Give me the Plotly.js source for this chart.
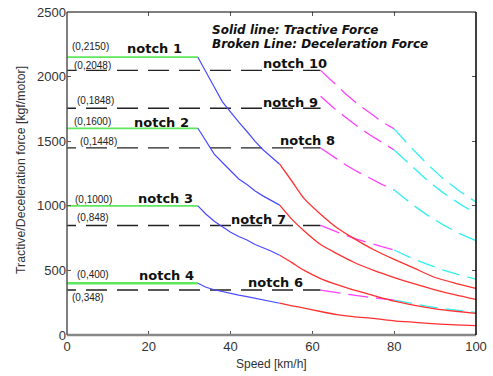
<!DOCTYPE html>
<html>
<head>
<meta charset="utf-8">
<script src="https://cdn.plot.ly/plotly-3.0.1.min.js"></script>
<style>
  html, body { margin: 0; padding: 0; background: #fff; }
  #chart { width: 493px; height: 376px; }
</style>
</head>
<body>
<div id="chart"></div>
<script>
// ---- Data ----
// Tractive force (solid lines), notch 1..4
const flatSpeedT = [0, 32];
const tractiveLevels = [2150, 1600, 1000, 400];
const blueSpeed = [32, 34, 36, 38, 40, 42, 44, 46, 48, 50, 52];
const redSpeed = [52, 55, 58, 62, 66, 70, 75, 80, 85, 90, 95, 100];
const n1Blue = [2150, 2030, 1920, 1805, 1722, 1648, 1575, 1498, 1432, 1380, 1322];
const n2Blue = [1600, 1500, 1400, 1335, 1272, 1208, 1165, 1115, 1075, 1040, 1005];
const n3Blue = [1000, 935, 880, 838, 795, 762, 735, 700, 675, 648, 617];
const n4Blue = [400, 370, 350, 335, 322, 309, 297, 285, 272, 258, 246];
const n1Red = [1322, 1190, 1055, 935, 830, 750, 660, 585, 515, 445, 400, 360];
const n2Red = [1005, 895, 805, 700, 630, 565, 500, 445, 395, 350, 310, 275];
const n3Red = [617, 560, 500, 437, 390, 350, 305, 262, 230, 203, 184, 168];
const n4Red = [246, 226, 208, 182, 158, 142, 128, 110, 98, 86, 78, 73];

// Deceleration force (broken lines), notch 10..6
const flatSpeedD = [0, 62];
// flat dashed black levels as drawn (notch 9's flat line is drawn lower than its label)
const decelFlatLevels = [2048, 1755, 1448, 848, 348];
const magSpeed = [62, 65, 68, 71, 74, 77, 80];
const cyanSpeed = [80, 84, 88, 92, 96, 100];
const decelMag = [
  [2048, 1955, 1870, 1790, 1718, 1650, 1595],
  [1848, 1762, 1688, 1615, 1550, 1490, 1432],
  [1448, 1381, 1320, 1264, 1213, 1166, 1122],
  [848, 809, 773, 741, 711, 684, 658],
  [348, 332, 317, 304, 292, 280, 270]
];
const decelCyan = [
  [1595, 1455, 1325, 1210, 1112, 1030],
  [1432, 1315, 1200, 1100, 1015, 940],
  [1122, 1020, 930, 852, 785, 730],
  [658, 598, 548, 503, 465, 432],
  [270, 245, 223, 204, 188, 175]
];

// Labels
const tractiveNames = ['notch 1', 'notch 2', 'notch 3', 'notch 4'];
const decelNames = ['notch 10', 'notch 9', 'notch 8', 'notch 7', 'notch 6'];
const tractiveNamePos = [[21.5, 2221], [23.2, 1648], [24.0, 1059], [24.4, 462]];
const decelNamePos = [[55.7, 2104], [54.6, 1802], [58.8, 1508], [46.9, 896], [50.9, 404]];
const pointLabels = ['(0,2150)', '(0,2048)', '(0,1848)', '(0,1600)', '(0,1448)', '(0,1000)', '(0,848)', '(0,400)', '(0,348)'];
const pointLabelPos = [[0.73, 2233], [1.2, 2089], [1.96, 1814], [1.2, 1655], [2.7, 1500], [1.5, 1051], [2.0, 908], [2.0, 470], [0.73, 288]];

// ---- Build traces ----
const traces = [];
const blues = [n1Blue, n2Blue, n3Blue, n4Blue];
const reds = [n1Red, n2Red, n3Red, n4Red];

decelFlatLevels.forEach((lv, i) => {
  traces.push({x: flatSpeedD, y: [lv, lv], mode: 'lines',
    line: {color: '#222', width: 1.4, dash: '9px,10px,12px,0px'}, hoverinfo: 'skip'});
  traces.push({x: magSpeed, y: decelMag[i], mode: 'lines',
    line: {color: '#ff40ff', width: 1.3, dash: '20px,8px'}, hoverinfo: 'skip'});
  traces.push({x: cyanSpeed, y: decelCyan[i], mode: 'lines',
    line: {color: '#30f0f0', width: 1.3, dash: '18px,8px'}, hoverinfo: 'skip'});
});

tractiveLevels.forEach((lv, i) => {
  traces.push({x: flatSpeedT, y: [lv, lv], mode: 'lines',
    line: {color: '#5ee65e', width: i === 3 ? 2.6 : 1.8}, hoverinfo: 'skip'});
  traces.push({x: blueSpeed, y: blues[i], mode: 'lines',
    line: {color: '#4a4aff', width: 1.2}, hoverinfo: 'skip'});
  traces.push({x: redSpeed, y: reds[i], mode: 'lines',
    line: {color: '#ff3030', width: 1.3, shape: 'spline', smoothing: 0.6}, hoverinfo: 'skip'});
});

// ---- Annotations ----
const annotations = [];
const notchFont = {family: 'DejaVu Sans', size: 13, color: '#111', weight: 'bold'};
tractiveNames.forEach((t, i) => annotations.push({
  x: tractiveNamePos[i][0], y: tractiveNamePos[i][1], xref: 'x', yref: 'y',
  text: t, showarrow: false, xanchor: 'center', yanchor: 'middle', font: notchFont
}));
decelNames.forEach((t, i) => annotations.push({
  x: decelNamePos[i][0], y: decelNamePos[i][1], xref: 'x', yref: 'y',
  text: t, showarrow: false, xanchor: 'center', yanchor: 'middle', font: notchFont
}));
pointLabels.forEach((t, i) => annotations.push({
  x: pointLabelPos[i][0], y: pointLabelPos[i][1], xref: 'x', yref: 'y',
  text: t, showarrow: false, xanchor: 'left', yanchor: 'middle',
  font: {family: 'Liberation Sans', size: 10, color: '#222'}
}));
const legFont = {family: 'DejaVu Sans', size: 12, color: '#111', weight: 'bold', style: 'italic'};
annotations.push({x: 35.0, y: 2360, xref: 'x', yref: 'y', text: 'Solid line: Tractive Force',
  showarrow: false, xanchor: 'left', yanchor: 'middle', font: legFont});
annotations.push({x: 35.0, y: 2256, xref: 'x', yref: 'y', text: 'Broken Line: Deceleration Force',
  showarrow: false, xanchor: 'left', yanchor: 'middle', font: legFont});
// axis titles
annotations.push({x: -0.1125, y: 0.511, xref: 'paper', yref: 'paper', textangle: -90,
  text: 'Tractive/Deceleration force [kgf/motor]', showarrow: false,
  xanchor: 'center', yanchor: 'middle', font: {family: 'Liberation Sans', size: 12.3, color: '#333'}});
annotations.push({x: 0.5, y: -0.0898, xref: 'paper', yref: 'paper',
  text: 'Speed [km/h]', showarrow: false,
  xanchor: 'center', yanchor: 'middle', font: {family: 'Liberation Sans', size: 12, color: '#333'}});

const axisFont = {family: 'Liberation Sans', size: 13, color: '#333'};
const layout = {
  width: 493, height: 376,
  margin: {l: 67, r: 17, t: 12, b: 41},
  paper_bgcolor: '#fff', plot_bgcolor: '#fff',
  showlegend: false,
  xaxis: {
    range: [0, 100], tickvals: [0, 20, 40, 60, 80, 100],
    ticks: 'inside', ticklen: 4, tickcolor: '#555', tickwidth: 1,
    mirror: 'ticks', showline: false, showgrid: false, zeroline: false,
    tickfont: axisFont, ticklabelstandoff: 2
  },
  yaxis: {
    range: [0, 2500], tickvals: [0, 500, 1000, 1500, 2000, 2500],
    ticks: 'inside', ticklen: 4, tickcolor: '#555', tickwidth: 1,
    mirror: 'ticks', showline: false, showgrid: false, zeroline: false,
    tickfont: axisFont
  },
  shapes: [
    {type: 'line', xref: 'paper', yref: 'paper', x0: 0, x1: 1, y0: 0, y1: 0, line: {color: '#888', width: 2.5}},
    {type: 'line', xref: 'paper', yref: 'paper', x0: 0, x1: 0, y0: 0, y1: 1, line: {color: '#555', width: 1.5}},
    {type: 'line', xref: 'paper', yref: 'paper', x0: 0, x1: 1, y0: 1, y1: 1, line: {color: '#000', width: 1}},
    {type: 'line', xref: 'paper', yref: 'paper', x0: 1, x1: 1, y0: 0, y1: 1, line: {color: '#000', width: 1.5}}
  ],
  annotations: annotations
};

Plotly.newPlot('chart', traces, layout, {staticPlot: true, displayModeBar: false});
</script>
</body>
</html>
